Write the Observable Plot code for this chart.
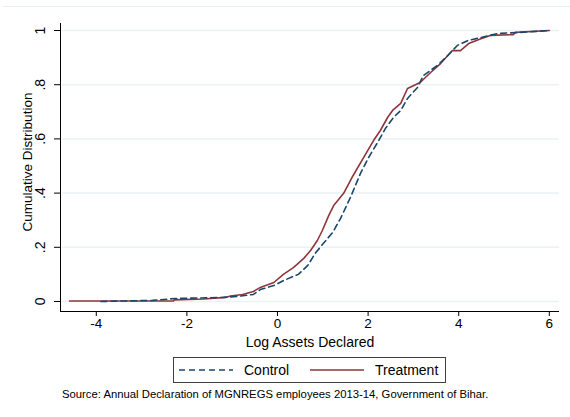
<!DOCTYPE html>
<html>
<head>
<meta charset="utf-8">
<script src="https://cdn.jsdelivr.net/npm/d3@7"></script>
<script src="https://cdn.jsdelivr.net/npm/@observablehq/plot@0.6"></script>
<style>
  html, body { margin: 0; padding: 0; background: #fff; }
  body { font-family: "Liberation Sans", Arial, sans-serif; }
  #wrap { position: relative; width: 570px; height: 417px; background: #fff; overflow: hidden; }
  #topline { position: absolute; left: 3px; right: 0; top: 6px; height: 1px; background: #eaf0f2; }
  #legend { position: absolute; left: 173px; top: 357px; width: 273px; height: 26px;
            border: 1px solid #404040; box-sizing: border-box; font-size: 14px; color: #000; }
  #legend .item { position: absolute; top: 0; height: 24px; display: flex; align-items: center; }
  #caption { position: absolute; left: 62px; top: 388px; font-size: 11.3px; color: #000; white-space: nowrap; }
</style>
</head>
<body>
<div id="wrap"><div id="chart"></div>
<div id="topline"></div>
<div id="legend"></div>
<div id="caption"></div>
</div>
<script>
// ---- data ----
const controlX = [-3.90, -2.76, -2.25, -1.70, -1.19, -0.81, -0.53, -0.38, -0.08, 0.13, 0.46, 0.67, 0.83, 1.01, 1.22, 1.39, 1.61, 1.83, 2.01, 2.21, 2.38, 2.56, 2.72, 2.87, 3.09, 3.22, 3.53, 3.76, 3.97, 4.20, 4.49, 4.86, 5.36, 6.00];
const controlY = [0.000, 0.004, 0.011, 0.013, 0.015, 0.020, 0.026, 0.044, 0.059, 0.077, 0.100, 0.133, 0.177, 0.214, 0.255, 0.306, 0.384, 0.472, 0.531, 0.587, 0.638, 0.679, 0.705, 0.749, 0.790, 0.834, 0.871, 0.908, 0.945, 0.963, 0.974, 0.989, 0.993, 1.000];
const treatX = [-4.59, -2.29, -2.28, -1.63, -1.15, -1.04, -0.77, -0.53, -0.38, -0.08, 0.13, 0.35, 0.58, 0.73, 0.88, 0.99, 1.13, 1.24, 1.46, 1.67, 1.90, 2.12, 2.27, 2.43, 2.54, 2.72, 2.87, 3.15, 3.38, 3.60, 3.86, 4.04, 4.22, 4.49, 4.70, 5.21, 5.25, 6.00];
const treatY = [0.002, 0.002, 0.006, 0.009, 0.015, 0.020, 0.026, 0.037, 0.052, 0.070, 0.100, 0.125, 0.159, 0.188, 0.225, 0.262, 0.317, 0.354, 0.399, 0.465, 0.531, 0.594, 0.631, 0.679, 0.705, 0.731, 0.786, 0.808, 0.845, 0.878, 0.926, 0.926, 0.952, 0.970, 0.982, 0.985, 0.993, 1.000];
const xTicks = [-4, -2, 0, 2, 4, 6];
const xTickLabels = ["-4", "-2", "0", "2", "4", "6"];
const yTicks = [0, 0.2, 0.4, 0.6, 0.8, 1];
const yTickLabels = ["0", ".2", ".4", ".6", ".8", "1"];
const seriesNames = ["Control", "Treatment"];
const xTitle = "Log Assets Declared";
const yTitle = "Cumulative Distribution";
const captionText = "Source: Annual Declaration of MGNREGS employees 2013-14, Government of Bihar.";

const colors = {Control: "#1a476f", Treatment: "#90353b"};
const control = controlX.map((x, i) => ({x, y: controlY[i]}));
const treatment = treatX.map((x, i) => ({x, y: treatY[i]}));

const xMin = -4.79, xMax = 6.225, yMin = -0.037, yMax = 1.037;

const chart = Plot.plot({
  width: 570,
  height: 350,
  marginTop: 20,
  marginBottom: 39,
  marginLeft: 60,
  marginRight: 11,
  style: {fontFamily: "'Liberation Sans', Arial, sans-serif", fontSize: "14px", background: "#fff", color: "#000"},
  x: {domain: [xMin, xMax], ticks: xTicks, tickSize: 5, tickFormat: () => "", label: null},
  y: {domain: [yMin, yMax], ticks: yTicks, tickSize: 6, tickFormat: () => "", label: null},
  marks: [
    Plot.ruleY(yTicks, {x1: xMin + 0.05, x2: xMax, stroke: "#eaf2f3", strokeWidth: 1.5}),
    Plot.line(treatment, {x: "x", y: "y", stroke: colors.Treatment, strokeWidth: 1.6}),
    Plot.line(control, {x: "x", y: "y", stroke: colors.Control, strokeWidth: 1.6, strokeDasharray: "6,4"}),
    Plot.ruleX([xMin], {y1: yMin, y2: 1.026, stroke: "#000", strokeWidth: 1}),
    Plot.ruleY([yMin], {stroke: "#000", strokeWidth: 1}),
    Plot.text(yTicks, {x: xMin, y: d => d, text: (d, i) => yTickLabels[i], rotate: -90, dx: -20, fontSize: 14}),
    Plot.text(xTicks, {x: d => d, y: yMin, text: (d, i) => xTickLabels[i], dy: 12, fontSize: 13.5}),
    Plot.text([yTitle], {frameAnchor: "left", text: d => d, rotate: -90, textAnchor: "middle", dx: -33, dy: -4, fontSize: 13.5}),
    Plot.text([xTitle], {frameAnchor: "bottom", text: d => d, dy: 35, fontSize: 14})
  ]
});
document.getElementById("chart").appendChild(chart);

// legend
const legend = document.getElementById("legend");
const items = [
  {name: seriesNames[0], left: 5, dash: "6,4"},
  {name: seriesNames[1], left: 136, dash: null}
];
for (const it of items) {
  const div = document.createElement("div");
  div.className = "item";
  div.style.left = it.left + "px";
  div.innerHTML = `<svg width="54" height="6" style="margin-right:11px"><line x1="0" x2="54" y1="3" y2="3" stroke="${colors[it.name]}" stroke-width="1.6" ${it.dash ? `stroke-dasharray="${it.dash}"` : ""}/></svg><span>${it.name}</span>`;
  legend.appendChild(div);
}
document.getElementById("caption").textContent = captionText;
</script>
</body>
</html>
